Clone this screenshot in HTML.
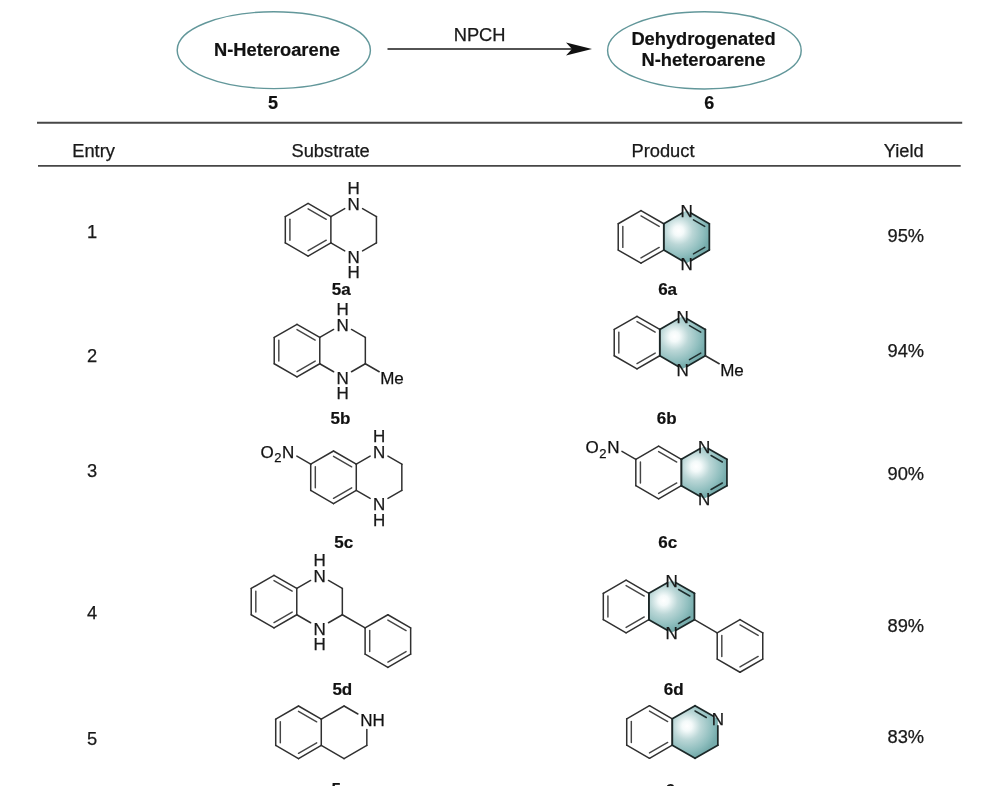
<!DOCTYPE html>
<html><head><meta charset="utf-8"><style>
html,body{margin:0;padding:0;background:#fff;}
svg{display:block;font-family:"Liberation Sans", sans-serif;will-change:transform;}
</style></head><body>
<svg width="989" height="786" viewBox="0 0 989 786">
<defs><radialGradient id="g1" cx="678.55" cy="230.90" r="31" gradientUnits="userSpaceOnUse"><stop offset="0" stop-color="#ffffff"/><stop offset="0.16" stop-color="#f4fafa"/><stop offset="0.45" stop-color="#bbd7d7"/><stop offset="0.8" stop-color="#8fbebe"/><stop offset="1" stop-color="#76acac"/></radialGradient><radialGradient id="g2" cx="674.55" cy="336.60" r="31" gradientUnits="userSpaceOnUse"><stop offset="0" stop-color="#ffffff"/><stop offset="0.16" stop-color="#f4fafa"/><stop offset="0.45" stop-color="#bbd7d7"/><stop offset="0.8" stop-color="#8fbebe"/><stop offset="1" stop-color="#76acac"/></radialGradient><radialGradient id="g3" cx="696.15" cy="466.50" r="31" gradientUnits="userSpaceOnUse"><stop offset="0" stop-color="#ffffff"/><stop offset="0.16" stop-color="#f4fafa"/><stop offset="0.45" stop-color="#bbd7d7"/><stop offset="0.8" stop-color="#8fbebe"/><stop offset="1" stop-color="#76acac"/></radialGradient><radialGradient id="g4" cx="663.65" cy="600.50" r="31" gradientUnits="userSpaceOnUse"><stop offset="0" stop-color="#ffffff"/><stop offset="0.16" stop-color="#f4fafa"/><stop offset="0.45" stop-color="#bbd7d7"/><stop offset="0.8" stop-color="#8fbebe"/><stop offset="1" stop-color="#76acac"/></radialGradient><radialGradient id="g5" cx="687.05" cy="726.00" r="31" gradientUnits="userSpaceOnUse"><stop offset="0" stop-color="#ffffff"/><stop offset="0.16" stop-color="#f4fafa"/><stop offset="0.45" stop-color="#bbd7d7"/><stop offset="0.8" stop-color="#8fbebe"/><stop offset="1" stop-color="#76acac"/></radialGradient></defs>
<rect width="989" height="786" fill="#fff"/>
<ellipse cx="273.8" cy="50.2" rx="96.6" ry="38.4" fill="none" stroke="#62979a" stroke-width="1.45"/>
<ellipse cx="704.4" cy="50.4" rx="96.8" ry="38.6" fill="none" stroke="#62979a" stroke-width="1.45"/>
<text x="277.00" y="55.60" font-size="18.3" text-anchor="middle" font-weight="bold" fill="#111" stroke="#111" stroke-width="0.2">N-Heteroarene</text>
<text x="703.50" y="45.00" font-size="18.3" text-anchor="middle" font-weight="bold" fill="#111" stroke="#111" stroke-width="0.2">Dehydrogenated</text>
<text x="703.50" y="66.30" font-size="18.3" text-anchor="middle" font-weight="bold" fill="#111" stroke="#111" stroke-width="0.2">N-heteroarene</text>
<text x="272.90" y="108.50" font-size="18" text-anchor="middle" font-weight="bold" fill="#111" stroke="#111" stroke-width="0.2">5</text>
<text x="709.20" y="109.00" font-size="18" text-anchor="middle" font-weight="bold" fill="#111" stroke="#111" stroke-width="0.2">6</text>
<text x="479.60" y="41.20" font-size="18.3" text-anchor="middle" font-weight="normal" fill="#1a1a1a" stroke="#111" stroke-width="0.25">NPCH</text>
<line x1="387.5" y1="49" x2="572" y2="49" stroke="#1a1a1a" stroke-width="1.5"/>
<path d="M592,49 L566,42.6 L572,49 L566,55.4 Z" fill="#111"/>
<line x1="37" y1="122.7" x2="962.2" y2="122.7" stroke="#474747" stroke-width="1.9"/>
<line x1="38" y1="165.9" x2="960.7" y2="165.9" stroke="#474747" stroke-width="1.9"/>
<text x="93.60" y="156.50" font-size="18.3" text-anchor="middle" font-weight="normal" fill="#1a1a1a" stroke="#111" stroke-width="0.25">Entry</text>
<text x="330.60" y="156.50" font-size="18.3" text-anchor="middle" font-weight="normal" fill="#1a1a1a" stroke="#111" stroke-width="0.25">Substrate</text>
<text x="663.00" y="156.50" font-size="18.3" text-anchor="middle" font-weight="normal" fill="#1a1a1a" stroke="#111" stroke-width="0.25">Product</text>
<text x="903.70" y="156.50" font-size="18.3" text-anchor="middle" font-weight="normal" fill="#1a1a1a" stroke="#111" stroke-width="0.25">Yield</text>
<text x="92.00" y="238.40" font-size="18.3" text-anchor="middle" font-weight="normal" fill="#1a1a1a" stroke="#111" stroke-width="0.25">1</text>
<text x="92.00" y="361.50" font-size="18.3" text-anchor="middle" font-weight="normal" fill="#1a1a1a" stroke="#111" stroke-width="0.25">2</text>
<text x="92.00" y="477.40" font-size="18.3" text-anchor="middle" font-weight="normal" fill="#1a1a1a" stroke="#111" stroke-width="0.25">3</text>
<text x="92.00" y="618.50" font-size="18.3" text-anchor="middle" font-weight="normal" fill="#1a1a1a" stroke="#111" stroke-width="0.25">4</text>
<text x="92.00" y="744.90" font-size="18.3" text-anchor="middle" font-weight="normal" fill="#1a1a1a" stroke="#111" stroke-width="0.25">5</text>
<text x="905.80" y="241.90" font-size="18.3" text-anchor="middle" font-weight="normal" fill="#1a1a1a" stroke="#111" stroke-width="0.25">95%</text>
<text x="905.80" y="356.50" font-size="18.3" text-anchor="middle" font-weight="normal" fill="#1a1a1a" stroke="#111" stroke-width="0.25">94%</text>
<text x="905.80" y="479.70" font-size="18.3" text-anchor="middle" font-weight="normal" fill="#1a1a1a" stroke="#111" stroke-width="0.25">90%</text>
<text x="905.80" y="631.60" font-size="18.3" text-anchor="middle" font-weight="normal" fill="#1a1a1a" stroke="#111" stroke-width="0.25">89%</text>
<text x="905.80" y="742.60" font-size="18.3" text-anchor="middle" font-weight="normal" fill="#1a1a1a" stroke="#111" stroke-width="0.25">83%</text>
<line x1="308.10" y1="203.45" x2="330.88" y2="216.60" stroke="#303030" stroke-width="1.5" stroke-linecap="round"/>
<line x1="330.88" y1="216.60" x2="330.88" y2="242.90" stroke="#303030" stroke-width="1.5" stroke-linecap="round"/>
<line x1="330.88" y1="242.90" x2="308.10" y2="256.05" stroke="#303030" stroke-width="1.5" stroke-linecap="round"/>
<line x1="308.10" y1="256.05" x2="285.32" y2="242.90" stroke="#303030" stroke-width="1.5" stroke-linecap="round"/>
<line x1="285.32" y1="242.90" x2="285.32" y2="216.60" stroke="#303030" stroke-width="1.5" stroke-linecap="round"/>
<line x1="285.32" y1="216.60" x2="308.10" y2="203.45" stroke="#303030" stroke-width="1.5" stroke-linecap="round"/>
<line x1="289.92" y1="219.26" x2="289.92" y2="240.24" stroke="#454545" stroke-width="1.45" stroke-linecap="round"/>
<line x1="308.10" y1="208.76" x2="326.28" y2="219.26" stroke="#454545" stroke-width="1.45" stroke-linecap="round"/>
<line x1="326.28" y1="240.24" x2="308.10" y2="250.74" stroke="#454545" stroke-width="1.45" stroke-linecap="round"/>
<line x1="330.88" y1="216.60" x2="344.73" y2="208.60" stroke="#303030" stroke-width="1.5" stroke-linecap="round"/>
<line x1="362.57" y1="208.60" x2="376.43" y2="216.60" stroke="#303030" stroke-width="1.5" stroke-linecap="round"/>
<line x1="376.43" y1="216.60" x2="376.43" y2="242.90" stroke="#303030" stroke-width="1.5" stroke-linecap="round"/>
<line x1="376.43" y1="242.90" x2="362.57" y2="250.90" stroke="#303030" stroke-width="1.5" stroke-linecap="round"/>
<line x1="344.73" y1="250.90" x2="330.88" y2="242.90" stroke="#303030" stroke-width="1.5" stroke-linecap="round"/>
<text x="353.65" y="210.05" font-size="17" text-anchor="middle" font-weight="normal" fill="#1a1a1a" stroke="#111" stroke-width="0.25">N</text>
<text x="353.65" y="194.45" font-size="17" text-anchor="middle" font-weight="normal" fill="#1a1a1a" stroke="#111" stroke-width="0.25">H</text>
<text x="353.65" y="262.65" font-size="17" text-anchor="middle" font-weight="normal" fill="#1a1a1a" stroke="#111" stroke-width="0.25">N</text>
<text x="353.65" y="278.25" font-size="17" text-anchor="middle" font-weight="normal" fill="#1a1a1a" stroke="#111" stroke-width="0.25">H</text>
<text x="341.20" y="294.70" font-size="17" text-anchor="middle" font-weight="bold" fill="#111" stroke="#111" stroke-width="0.2">5a</text>
<polygon points="686.55,210.60 709.33,223.75 709.33,250.05 686.55,263.20 663.78,250.05 663.78,223.75" fill="url(#g1)"/>
<line x1="641.00" y1="210.60" x2="663.78" y2="223.75" stroke="#303030" stroke-width="1.5" stroke-linecap="round"/>
<line x1="663.78" y1="223.75" x2="663.78" y2="250.05" stroke="#303030" stroke-width="1.5" stroke-linecap="round"/>
<line x1="663.78" y1="250.05" x2="641.00" y2="263.20" stroke="#303030" stroke-width="1.5" stroke-linecap="round"/>
<line x1="641.00" y1="263.20" x2="618.22" y2="250.05" stroke="#303030" stroke-width="1.5" stroke-linecap="round"/>
<line x1="618.22" y1="250.05" x2="618.22" y2="223.75" stroke="#303030" stroke-width="1.5" stroke-linecap="round"/>
<line x1="618.22" y1="223.75" x2="641.00" y2="210.60" stroke="#303030" stroke-width="1.5" stroke-linecap="round"/>
<line x1="622.82" y1="226.41" x2="622.82" y2="247.39" stroke="#454545" stroke-width="1.45" stroke-linecap="round"/>
<line x1="641.00" y1="215.91" x2="659.18" y2="226.41" stroke="#454545" stroke-width="1.45" stroke-linecap="round"/>
<line x1="659.18" y1="247.39" x2="641.00" y2="257.89" stroke="#454545" stroke-width="1.45" stroke-linecap="round"/>
<line x1="663.78" y1="223.75" x2="682.22" y2="213.10" stroke="#1c2828" stroke-width="1.75" stroke-linecap="round"/>
<line x1="690.88" y1="213.10" x2="709.33" y2="223.75" stroke="#1c2828" stroke-width="1.75" stroke-linecap="round"/>
<line x1="709.33" y1="223.75" x2="709.33" y2="250.05" stroke="#1c2828" stroke-width="1.75" stroke-linecap="round"/>
<line x1="709.33" y1="250.05" x2="690.88" y2="260.70" stroke="#1c2828" stroke-width="1.75" stroke-linecap="round"/>
<line x1="682.22" y1="260.70" x2="663.78" y2="250.05" stroke="#1c2828" stroke-width="1.75" stroke-linecap="round"/>
<line x1="693.48" y1="219.91" x2="704.73" y2="226.41" stroke="#1f2e2e" stroke-width="1.55" stroke-linecap="round"/>
<line x1="704.73" y1="247.39" x2="693.48" y2="253.89" stroke="#1f2e2e" stroke-width="1.55" stroke-linecap="round"/>
<line x1="663.78" y1="223.75" x2="663.78" y2="250.05" stroke="#1c2828" stroke-width="1.75" stroke-linecap="round"/>
<text x="686.55" y="217.20" font-size="17" text-anchor="middle" font-weight="normal" fill="#1a1a1a" stroke="#111" stroke-width="0.25">N</text>
<text x="686.55" y="269.80" font-size="17" text-anchor="middle" font-weight="normal" fill="#1a1a1a" stroke="#111" stroke-width="0.25">N</text>
<text x="667.60" y="294.90" font-size="17" text-anchor="middle" font-weight="bold" fill="#111" stroke="#111" stroke-width="0.2">6a</text>
<line x1="297.00" y1="324.30" x2="319.78" y2="337.45" stroke="#303030" stroke-width="1.5" stroke-linecap="round"/>
<line x1="319.78" y1="337.45" x2="319.78" y2="363.75" stroke="#303030" stroke-width="1.5" stroke-linecap="round"/>
<line x1="319.78" y1="363.75" x2="297.00" y2="376.90" stroke="#303030" stroke-width="1.5" stroke-linecap="round"/>
<line x1="297.00" y1="376.90" x2="274.22" y2="363.75" stroke="#303030" stroke-width="1.5" stroke-linecap="round"/>
<line x1="274.22" y1="363.75" x2="274.22" y2="337.45" stroke="#303030" stroke-width="1.5" stroke-linecap="round"/>
<line x1="274.22" y1="337.45" x2="297.00" y2="324.30" stroke="#303030" stroke-width="1.5" stroke-linecap="round"/>
<line x1="278.82" y1="340.11" x2="278.82" y2="361.09" stroke="#454545" stroke-width="1.45" stroke-linecap="round"/>
<line x1="297.00" y1="329.61" x2="315.18" y2="340.11" stroke="#454545" stroke-width="1.45" stroke-linecap="round"/>
<line x1="315.18" y1="361.09" x2="297.00" y2="371.59" stroke="#454545" stroke-width="1.45" stroke-linecap="round"/>
<line x1="319.78" y1="337.45" x2="333.63" y2="329.45" stroke="#303030" stroke-width="1.5" stroke-linecap="round"/>
<line x1="351.47" y1="329.45" x2="365.33" y2="337.45" stroke="#303030" stroke-width="1.5" stroke-linecap="round"/>
<line x1="365.33" y1="337.45" x2="365.33" y2="363.75" stroke="#303030" stroke-width="1.5" stroke-linecap="round"/>
<line x1="365.33" y1="363.75" x2="351.47" y2="371.75" stroke="#303030" stroke-width="1.5" stroke-linecap="round"/>
<line x1="333.63" y1="371.75" x2="319.78" y2="363.75" stroke="#303030" stroke-width="1.5" stroke-linecap="round"/>
<text x="342.55" y="330.90" font-size="17" text-anchor="middle" font-weight="normal" fill="#1a1a1a" stroke="#111" stroke-width="0.25">N</text>
<text x="342.55" y="315.30" font-size="17" text-anchor="middle" font-weight="normal" fill="#1a1a1a" stroke="#111" stroke-width="0.25">H</text>
<text x="342.55" y="383.50" font-size="17" text-anchor="middle" font-weight="normal" fill="#1a1a1a" stroke="#111" stroke-width="0.25">N</text>
<text x="342.55" y="399.10" font-size="17" text-anchor="middle" font-weight="normal" fill="#1a1a1a" stroke="#111" stroke-width="0.25">H</text>
<line x1="365.33" y1="363.75" x2="379.19" y2="371.75" stroke="#303030" stroke-width="1.5" stroke-linecap="round"/>
<text x="380.21" y="383.50" font-size="17" fill="#111" stroke="#111" stroke-width="0.25">Me</text>
<text x="340.50" y="424.00" font-size="17" text-anchor="middle" font-weight="bold" fill="#111" stroke="#111" stroke-width="0.2">5b</text>
<polygon points="682.55,316.30 705.33,329.45 705.33,355.75 682.55,368.90 659.78,355.75 659.78,329.45" fill="url(#g2)"/>
<line x1="637.00" y1="316.30" x2="659.78" y2="329.45" stroke="#303030" stroke-width="1.5" stroke-linecap="round"/>
<line x1="659.78" y1="329.45" x2="659.78" y2="355.75" stroke="#303030" stroke-width="1.5" stroke-linecap="round"/>
<line x1="659.78" y1="355.75" x2="637.00" y2="368.90" stroke="#303030" stroke-width="1.5" stroke-linecap="round"/>
<line x1="637.00" y1="368.90" x2="614.22" y2="355.75" stroke="#303030" stroke-width="1.5" stroke-linecap="round"/>
<line x1="614.22" y1="355.75" x2="614.22" y2="329.45" stroke="#303030" stroke-width="1.5" stroke-linecap="round"/>
<line x1="614.22" y1="329.45" x2="637.00" y2="316.30" stroke="#303030" stroke-width="1.5" stroke-linecap="round"/>
<line x1="618.82" y1="332.11" x2="618.82" y2="353.09" stroke="#454545" stroke-width="1.45" stroke-linecap="round"/>
<line x1="637.00" y1="321.61" x2="655.18" y2="332.11" stroke="#454545" stroke-width="1.45" stroke-linecap="round"/>
<line x1="655.18" y1="353.09" x2="637.00" y2="363.59" stroke="#454545" stroke-width="1.45" stroke-linecap="round"/>
<line x1="659.78" y1="329.45" x2="678.22" y2="318.80" stroke="#1c2828" stroke-width="1.75" stroke-linecap="round"/>
<line x1="686.88" y1="318.80" x2="705.33" y2="329.45" stroke="#1c2828" stroke-width="1.75" stroke-linecap="round"/>
<line x1="705.33" y1="329.45" x2="705.33" y2="355.75" stroke="#1c2828" stroke-width="1.75" stroke-linecap="round"/>
<line x1="705.33" y1="355.75" x2="686.88" y2="366.40" stroke="#1c2828" stroke-width="1.75" stroke-linecap="round"/>
<line x1="678.22" y1="366.40" x2="659.78" y2="355.75" stroke="#1c2828" stroke-width="1.75" stroke-linecap="round"/>
<line x1="689.48" y1="325.61" x2="700.73" y2="332.11" stroke="#1f2e2e" stroke-width="1.55" stroke-linecap="round"/>
<line x1="700.73" y1="353.09" x2="689.48" y2="359.59" stroke="#1f2e2e" stroke-width="1.55" stroke-linecap="round"/>
<line x1="659.78" y1="329.45" x2="659.78" y2="355.75" stroke="#1c2828" stroke-width="1.75" stroke-linecap="round"/>
<text x="682.55" y="322.90" font-size="17" text-anchor="middle" font-weight="normal" fill="#1a1a1a" stroke="#111" stroke-width="0.25">N</text>
<text x="682.55" y="375.50" font-size="17" text-anchor="middle" font-weight="normal" fill="#1a1a1a" stroke="#111" stroke-width="0.25">N</text>
<line x1="705.33" y1="355.75" x2="719.19" y2="363.75" stroke="#303030" stroke-width="1.5" stroke-linecap="round"/>
<text x="720.21" y="375.50" font-size="17" fill="#111" stroke="#111" stroke-width="0.25">Me</text>
<text x="666.60" y="424.20" font-size="17" text-anchor="middle" font-weight="bold" fill="#111" stroke="#111" stroke-width="0.2">6b</text>
<line x1="333.50" y1="451.00" x2="356.28" y2="464.15" stroke="#303030" stroke-width="1.5" stroke-linecap="round"/>
<line x1="356.28" y1="464.15" x2="356.28" y2="490.45" stroke="#303030" stroke-width="1.5" stroke-linecap="round"/>
<line x1="356.28" y1="490.45" x2="333.50" y2="503.60" stroke="#303030" stroke-width="1.5" stroke-linecap="round"/>
<line x1="333.50" y1="503.60" x2="310.72" y2="490.45" stroke="#303030" stroke-width="1.5" stroke-linecap="round"/>
<line x1="310.72" y1="490.45" x2="310.72" y2="464.15" stroke="#303030" stroke-width="1.5" stroke-linecap="round"/>
<line x1="310.72" y1="464.15" x2="333.50" y2="451.00" stroke="#303030" stroke-width="1.5" stroke-linecap="round"/>
<line x1="315.32" y1="466.81" x2="315.32" y2="487.79" stroke="#454545" stroke-width="1.45" stroke-linecap="round"/>
<line x1="333.50" y1="456.31" x2="351.68" y2="466.81" stroke="#454545" stroke-width="1.45" stroke-linecap="round"/>
<line x1="351.68" y1="487.79" x2="333.50" y2="498.29" stroke="#454545" stroke-width="1.45" stroke-linecap="round"/>
<line x1="356.28" y1="464.15" x2="370.13" y2="456.15" stroke="#303030" stroke-width="1.5" stroke-linecap="round"/>
<line x1="387.97" y1="456.15" x2="401.83" y2="464.15" stroke="#303030" stroke-width="1.5" stroke-linecap="round"/>
<line x1="401.83" y1="464.15" x2="401.83" y2="490.45" stroke="#303030" stroke-width="1.5" stroke-linecap="round"/>
<line x1="401.83" y1="490.45" x2="387.97" y2="498.45" stroke="#303030" stroke-width="1.5" stroke-linecap="round"/>
<line x1="370.13" y1="498.45" x2="356.28" y2="490.45" stroke="#303030" stroke-width="1.5" stroke-linecap="round"/>
<text x="379.05" y="457.60" font-size="17" text-anchor="middle" font-weight="normal" fill="#1a1a1a" stroke="#111" stroke-width="0.25">N</text>
<text x="379.05" y="442.00" font-size="17" text-anchor="middle" font-weight="normal" fill="#1a1a1a" stroke="#111" stroke-width="0.25">H</text>
<text x="379.05" y="510.20" font-size="17" text-anchor="middle" font-weight="normal" fill="#1a1a1a" stroke="#111" stroke-width="0.25">N</text>
<text x="379.05" y="525.80" font-size="17" text-anchor="middle" font-weight="normal" fill="#1a1a1a" stroke="#111" stroke-width="0.25">H</text>
<line x1="310.72" y1="464.15" x2="296.87" y2="456.15" stroke="#303030" stroke-width="1.5" stroke-linecap="round"/>
<text x="294.95" y="457.60" font-size="17" text-anchor="end" fill="#111" stroke="#111" stroke-width="0.25" letter-spacing="0.6">O<tspan font-size="13" dy="4.8">2</tspan><tspan dy="-4.8">N</tspan></text>
<text x="343.70" y="547.70" font-size="17" text-anchor="middle" font-weight="bold" fill="#111" stroke="#111" stroke-width="0.2">5c</text>
<polygon points="704.15,446.20 726.93,459.35 726.93,485.65 704.15,498.80 681.38,485.65 681.38,459.35" fill="url(#g3)"/>
<line x1="658.60" y1="446.20" x2="681.38" y2="459.35" stroke="#303030" stroke-width="1.5" stroke-linecap="round"/>
<line x1="681.38" y1="459.35" x2="681.38" y2="485.65" stroke="#303030" stroke-width="1.5" stroke-linecap="round"/>
<line x1="681.38" y1="485.65" x2="658.60" y2="498.80" stroke="#303030" stroke-width="1.5" stroke-linecap="round"/>
<line x1="658.60" y1="498.80" x2="635.82" y2="485.65" stroke="#303030" stroke-width="1.5" stroke-linecap="round"/>
<line x1="635.82" y1="485.65" x2="635.82" y2="459.35" stroke="#303030" stroke-width="1.5" stroke-linecap="round"/>
<line x1="635.82" y1="459.35" x2="658.60" y2="446.20" stroke="#303030" stroke-width="1.5" stroke-linecap="round"/>
<line x1="640.42" y1="462.01" x2="640.42" y2="482.99" stroke="#454545" stroke-width="1.45" stroke-linecap="round"/>
<line x1="658.60" y1="451.51" x2="676.78" y2="462.01" stroke="#454545" stroke-width="1.45" stroke-linecap="round"/>
<line x1="676.78" y1="482.99" x2="658.60" y2="493.49" stroke="#454545" stroke-width="1.45" stroke-linecap="round"/>
<line x1="681.38" y1="459.35" x2="699.82" y2="448.70" stroke="#1c2828" stroke-width="1.75" stroke-linecap="round"/>
<line x1="708.48" y1="448.70" x2="726.93" y2="459.35" stroke="#1c2828" stroke-width="1.75" stroke-linecap="round"/>
<line x1="726.93" y1="459.35" x2="726.93" y2="485.65" stroke="#1c2828" stroke-width="1.75" stroke-linecap="round"/>
<line x1="726.93" y1="485.65" x2="708.48" y2="496.30" stroke="#1c2828" stroke-width="1.75" stroke-linecap="round"/>
<line x1="699.82" y1="496.30" x2="681.38" y2="485.65" stroke="#1c2828" stroke-width="1.75" stroke-linecap="round"/>
<line x1="711.08" y1="455.51" x2="722.33" y2="462.01" stroke="#1f2e2e" stroke-width="1.55" stroke-linecap="round"/>
<line x1="722.33" y1="482.99" x2="711.08" y2="489.49" stroke="#1f2e2e" stroke-width="1.55" stroke-linecap="round"/>
<line x1="681.38" y1="459.35" x2="681.38" y2="485.65" stroke="#1c2828" stroke-width="1.75" stroke-linecap="round"/>
<text x="704.15" y="452.80" font-size="17" text-anchor="middle" font-weight="normal" fill="#1a1a1a" stroke="#111" stroke-width="0.25">N</text>
<text x="704.15" y="505.40" font-size="17" text-anchor="middle" font-weight="normal" fill="#1a1a1a" stroke="#111" stroke-width="0.25">N</text>
<line x1="635.82" y1="459.35" x2="621.97" y2="451.35" stroke="#303030" stroke-width="1.5" stroke-linecap="round"/>
<text x="620.05" y="452.80" font-size="17" text-anchor="end" fill="#111" stroke="#111" stroke-width="0.25" letter-spacing="0.6">O<tspan font-size="13" dy="4.8">2</tspan><tspan dy="-4.8">N</tspan></text>
<text x="667.70" y="547.60" font-size="17" text-anchor="middle" font-weight="bold" fill="#111" stroke="#111" stroke-width="0.2">6c</text>
<line x1="274.00" y1="575.30" x2="296.78" y2="588.45" stroke="#303030" stroke-width="1.5" stroke-linecap="round"/>
<line x1="296.78" y1="588.45" x2="296.78" y2="614.75" stroke="#303030" stroke-width="1.5" stroke-linecap="round"/>
<line x1="296.78" y1="614.75" x2="274.00" y2="627.90" stroke="#303030" stroke-width="1.5" stroke-linecap="round"/>
<line x1="274.00" y1="627.90" x2="251.22" y2="614.75" stroke="#303030" stroke-width="1.5" stroke-linecap="round"/>
<line x1="251.22" y1="614.75" x2="251.22" y2="588.45" stroke="#303030" stroke-width="1.5" stroke-linecap="round"/>
<line x1="251.22" y1="588.45" x2="274.00" y2="575.30" stroke="#303030" stroke-width="1.5" stroke-linecap="round"/>
<line x1="255.82" y1="591.11" x2="255.82" y2="612.09" stroke="#454545" stroke-width="1.45" stroke-linecap="round"/>
<line x1="274.00" y1="580.61" x2="292.18" y2="591.11" stroke="#454545" stroke-width="1.45" stroke-linecap="round"/>
<line x1="292.18" y1="612.09" x2="274.00" y2="622.59" stroke="#454545" stroke-width="1.45" stroke-linecap="round"/>
<line x1="296.78" y1="588.45" x2="310.63" y2="580.45" stroke="#303030" stroke-width="1.5" stroke-linecap="round"/>
<line x1="328.47" y1="580.45" x2="342.33" y2="588.45" stroke="#303030" stroke-width="1.5" stroke-linecap="round"/>
<line x1="342.33" y1="588.45" x2="342.33" y2="614.75" stroke="#303030" stroke-width="1.5" stroke-linecap="round"/>
<line x1="342.33" y1="614.75" x2="328.47" y2="622.75" stroke="#303030" stroke-width="1.5" stroke-linecap="round"/>
<line x1="310.63" y1="622.75" x2="296.78" y2="614.75" stroke="#303030" stroke-width="1.5" stroke-linecap="round"/>
<text x="319.55" y="581.90" font-size="17" text-anchor="middle" font-weight="normal" fill="#1a1a1a" stroke="#111" stroke-width="0.25">N</text>
<text x="319.55" y="566.30" font-size="17" text-anchor="middle" font-weight="normal" fill="#1a1a1a" stroke="#111" stroke-width="0.25">H</text>
<text x="319.55" y="634.50" font-size="17" text-anchor="middle" font-weight="normal" fill="#1a1a1a" stroke="#111" stroke-width="0.25">N</text>
<text x="319.55" y="650.10" font-size="17" text-anchor="middle" font-weight="normal" fill="#1a1a1a" stroke="#111" stroke-width="0.25">H</text>
<line x1="342.33" y1="614.75" x2="365.11" y2="627.90" stroke="#303030" stroke-width="1.5" stroke-linecap="round"/>
<line x1="387.88" y1="614.75" x2="410.66" y2="627.90" stroke="#303030" stroke-width="1.5" stroke-linecap="round"/>
<line x1="410.66" y1="627.90" x2="410.66" y2="654.20" stroke="#303030" stroke-width="1.5" stroke-linecap="round"/>
<line x1="410.66" y1="654.20" x2="387.88" y2="667.35" stroke="#303030" stroke-width="1.5" stroke-linecap="round"/>
<line x1="387.88" y1="667.35" x2="365.11" y2="654.20" stroke="#303030" stroke-width="1.5" stroke-linecap="round"/>
<line x1="365.11" y1="654.20" x2="365.11" y2="627.90" stroke="#303030" stroke-width="1.5" stroke-linecap="round"/>
<line x1="365.11" y1="627.90" x2="387.88" y2="614.75" stroke="#303030" stroke-width="1.5" stroke-linecap="round"/>
<line x1="369.71" y1="630.56" x2="369.71" y2="651.54" stroke="#454545" stroke-width="1.45" stroke-linecap="round"/>
<line x1="387.88" y1="620.06" x2="406.06" y2="630.56" stroke="#454545" stroke-width="1.45" stroke-linecap="round"/>
<line x1="406.06" y1="651.54" x2="387.88" y2="662.04" stroke="#454545" stroke-width="1.45" stroke-linecap="round"/>
<text x="342.30" y="694.90" font-size="17" text-anchor="middle" font-weight="bold" fill="#111" stroke="#111" stroke-width="0.2">5d</text>
<polygon points="671.65,580.20 694.43,593.35 694.43,619.65 671.65,632.80 648.88,619.65 648.88,593.35" fill="url(#g4)"/>
<line x1="626.10" y1="580.20" x2="648.88" y2="593.35" stroke="#303030" stroke-width="1.5" stroke-linecap="round"/>
<line x1="648.88" y1="593.35" x2="648.88" y2="619.65" stroke="#303030" stroke-width="1.5" stroke-linecap="round"/>
<line x1="648.88" y1="619.65" x2="626.10" y2="632.80" stroke="#303030" stroke-width="1.5" stroke-linecap="round"/>
<line x1="626.10" y1="632.80" x2="603.32" y2="619.65" stroke="#303030" stroke-width="1.5" stroke-linecap="round"/>
<line x1="603.32" y1="619.65" x2="603.32" y2="593.35" stroke="#303030" stroke-width="1.5" stroke-linecap="round"/>
<line x1="603.32" y1="593.35" x2="626.10" y2="580.20" stroke="#303030" stroke-width="1.5" stroke-linecap="round"/>
<line x1="607.92" y1="596.01" x2="607.92" y2="616.99" stroke="#454545" stroke-width="1.45" stroke-linecap="round"/>
<line x1="626.10" y1="585.51" x2="644.28" y2="596.01" stroke="#454545" stroke-width="1.45" stroke-linecap="round"/>
<line x1="644.28" y1="616.99" x2="626.10" y2="627.49" stroke="#454545" stroke-width="1.45" stroke-linecap="round"/>
<line x1="648.88" y1="593.35" x2="667.32" y2="582.70" stroke="#1c2828" stroke-width="1.75" stroke-linecap="round"/>
<line x1="675.98" y1="582.70" x2="694.43" y2="593.35" stroke="#1c2828" stroke-width="1.75" stroke-linecap="round"/>
<line x1="694.43" y1="593.35" x2="694.43" y2="619.65" stroke="#1c2828" stroke-width="1.75" stroke-linecap="round"/>
<line x1="694.43" y1="619.65" x2="675.98" y2="630.30" stroke="#1c2828" stroke-width="1.75" stroke-linecap="round"/>
<line x1="667.32" y1="630.30" x2="648.88" y2="619.65" stroke="#1c2828" stroke-width="1.75" stroke-linecap="round"/>
<line x1="678.58" y1="589.51" x2="689.83" y2="596.01" stroke="#1f2e2e" stroke-width="1.55" stroke-linecap="round"/>
<line x1="689.83" y1="616.99" x2="678.58" y2="623.49" stroke="#1f2e2e" stroke-width="1.55" stroke-linecap="round"/>
<line x1="648.88" y1="593.35" x2="648.88" y2="619.65" stroke="#1c2828" stroke-width="1.75" stroke-linecap="round"/>
<text x="671.65" y="586.80" font-size="17" text-anchor="middle" font-weight="normal" fill="#1a1a1a" stroke="#111" stroke-width="0.25">N</text>
<text x="671.65" y="639.40" font-size="17" text-anchor="middle" font-weight="normal" fill="#1a1a1a" stroke="#111" stroke-width="0.25">N</text>
<line x1="694.43" y1="619.65" x2="717.21" y2="632.80" stroke="#303030" stroke-width="1.5" stroke-linecap="round"/>
<line x1="739.98" y1="619.65" x2="762.76" y2="632.80" stroke="#303030" stroke-width="1.5" stroke-linecap="round"/>
<line x1="762.76" y1="632.80" x2="762.76" y2="659.10" stroke="#303030" stroke-width="1.5" stroke-linecap="round"/>
<line x1="762.76" y1="659.10" x2="739.98" y2="672.25" stroke="#303030" stroke-width="1.5" stroke-linecap="round"/>
<line x1="739.98" y1="672.25" x2="717.21" y2="659.10" stroke="#303030" stroke-width="1.5" stroke-linecap="round"/>
<line x1="717.21" y1="659.10" x2="717.21" y2="632.80" stroke="#303030" stroke-width="1.5" stroke-linecap="round"/>
<line x1="717.21" y1="632.80" x2="739.98" y2="619.65" stroke="#303030" stroke-width="1.5" stroke-linecap="round"/>
<line x1="721.81" y1="635.46" x2="721.81" y2="656.44" stroke="#454545" stroke-width="1.45" stroke-linecap="round"/>
<line x1="739.98" y1="624.96" x2="758.16" y2="635.46" stroke="#454545" stroke-width="1.45" stroke-linecap="round"/>
<line x1="758.16" y1="656.44" x2="739.98" y2="666.94" stroke="#454545" stroke-width="1.45" stroke-linecap="round"/>
<text x="673.60" y="694.90" font-size="17" text-anchor="middle" font-weight="bold" fill="#111" stroke="#111" stroke-width="0.2">6d</text>
<line x1="298.50" y1="706.00" x2="321.28" y2="719.15" stroke="#303030" stroke-width="1.5" stroke-linecap="round"/>
<line x1="321.28" y1="719.15" x2="321.28" y2="745.45" stroke="#303030" stroke-width="1.5" stroke-linecap="round"/>
<line x1="321.28" y1="745.45" x2="298.50" y2="758.60" stroke="#303030" stroke-width="1.5" stroke-linecap="round"/>
<line x1="298.50" y1="758.60" x2="275.72" y2="745.45" stroke="#303030" stroke-width="1.5" stroke-linecap="round"/>
<line x1="275.72" y1="745.45" x2="275.72" y2="719.15" stroke="#303030" stroke-width="1.5" stroke-linecap="round"/>
<line x1="275.72" y1="719.15" x2="298.50" y2="706.00" stroke="#303030" stroke-width="1.5" stroke-linecap="round"/>
<line x1="280.32" y1="721.81" x2="280.32" y2="742.79" stroke="#454545" stroke-width="1.45" stroke-linecap="round"/>
<line x1="298.50" y1="711.31" x2="316.68" y2="721.81" stroke="#454545" stroke-width="1.45" stroke-linecap="round"/>
<line x1="316.68" y1="742.79" x2="298.50" y2="753.29" stroke="#454545" stroke-width="1.45" stroke-linecap="round"/>
<line x1="321.28" y1="719.15" x2="344.05" y2="706.00" stroke="#303030" stroke-width="1.5" stroke-linecap="round"/>
<line x1="344.05" y1="706.00" x2="357.91" y2="714.00" stroke="#303030" stroke-width="1.5" stroke-linecap="round"/>
<line x1="366.83" y1="729.45" x2="366.83" y2="745.45" stroke="#303030" stroke-width="1.5" stroke-linecap="round"/>
<line x1="366.83" y1="745.45" x2="344.05" y2="758.60" stroke="#303030" stroke-width="1.5" stroke-linecap="round"/>
<line x1="344.05" y1="758.60" x2="321.28" y2="745.45" stroke="#303030" stroke-width="1.5" stroke-linecap="round"/>
<text x="360.23" y="725.75" font-size="17" fill="#111" stroke="#111" stroke-width="0.25">NH</text>
<text x="341.00" y="795.20" font-size="17" text-anchor="middle" font-weight="bold" fill="#111" stroke="#111" stroke-width="0.2">5e</text>
<polygon points="695.05,705.70 717.83,718.85 717.83,745.15 695.05,758.30 672.28,745.15 672.28,718.85" fill="url(#g5)"/>
<line x1="649.50" y1="705.70" x2="672.28" y2="718.85" stroke="#303030" stroke-width="1.5" stroke-linecap="round"/>
<line x1="672.28" y1="718.85" x2="672.28" y2="745.15" stroke="#303030" stroke-width="1.5" stroke-linecap="round"/>
<line x1="672.28" y1="745.15" x2="649.50" y2="758.30" stroke="#303030" stroke-width="1.5" stroke-linecap="round"/>
<line x1="649.50" y1="758.30" x2="626.72" y2="745.15" stroke="#303030" stroke-width="1.5" stroke-linecap="round"/>
<line x1="626.72" y1="745.15" x2="626.72" y2="718.85" stroke="#303030" stroke-width="1.5" stroke-linecap="round"/>
<line x1="626.72" y1="718.85" x2="649.50" y2="705.70" stroke="#303030" stroke-width="1.5" stroke-linecap="round"/>
<line x1="631.32" y1="721.51" x2="631.32" y2="742.49" stroke="#454545" stroke-width="1.45" stroke-linecap="round"/>
<line x1="649.50" y1="711.01" x2="667.68" y2="721.51" stroke="#454545" stroke-width="1.45" stroke-linecap="round"/>
<line x1="667.68" y1="742.49" x2="649.50" y2="752.99" stroke="#454545" stroke-width="1.45" stroke-linecap="round"/>
<line x1="672.28" y1="718.85" x2="695.05" y2="705.70" stroke="#1c2828" stroke-width="1.75" stroke-linecap="round"/>
<line x1="695.05" y1="705.70" x2="713.50" y2="716.35" stroke="#1c2828" stroke-width="1.75" stroke-linecap="round"/>
<line x1="717.83" y1="725.85" x2="717.83" y2="745.15" stroke="#1c2828" stroke-width="1.75" stroke-linecap="round"/>
<line x1="717.83" y1="745.15" x2="695.05" y2="758.30" stroke="#1c2828" stroke-width="1.75" stroke-linecap="round"/>
<line x1="695.05" y1="758.30" x2="672.28" y2="745.15" stroke="#1c2828" stroke-width="1.75" stroke-linecap="round"/>
<line x1="695.05" y1="711.01" x2="706.30" y2="717.51" stroke="#1f2e2e" stroke-width="1.55" stroke-linecap="round"/>
<line x1="672.28" y1="718.85" x2="672.28" y2="745.15" stroke="#1c2828" stroke-width="1.75" stroke-linecap="round"/>
<text x="717.83" y="725.45" font-size="17" text-anchor="middle" font-weight="normal" fill="#1a1a1a" stroke="#111" stroke-width="0.25">N</text>
<text x="675.00" y="795.70" font-size="17" text-anchor="middle" font-weight="bold" fill="#111" stroke="#111" stroke-width="0.2">6e</text>
</svg>
</body></html>
